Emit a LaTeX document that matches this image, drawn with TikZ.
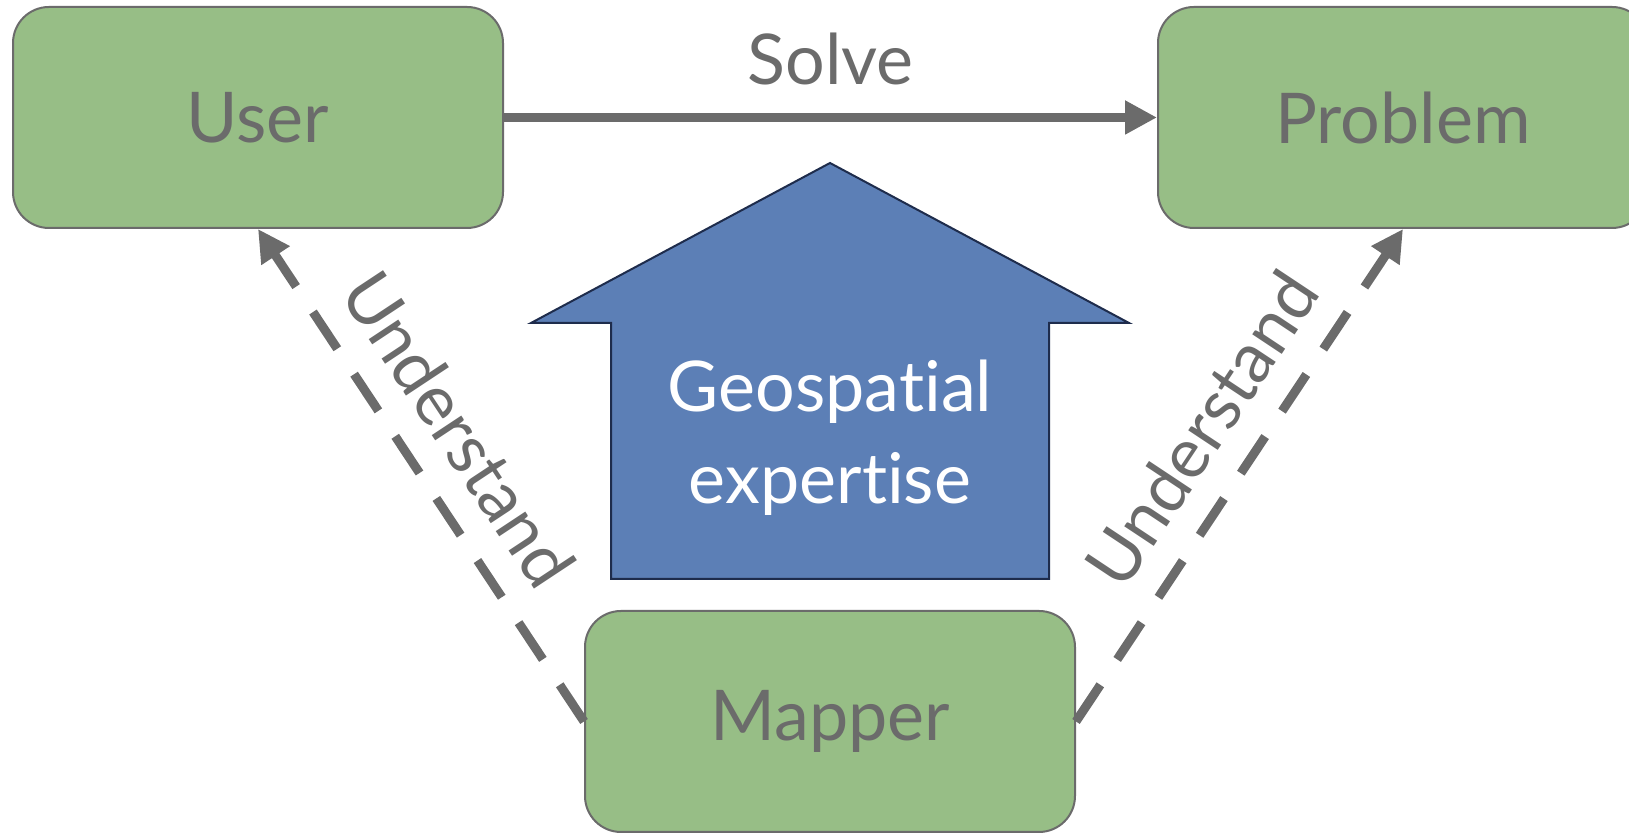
\documentclass[tikz,border=0pt]{standalone}
\usepackage{fontspec}
\setmainfont{Lato}[Ligatures={NoCommon,NoRequired,NoContextual}]
\usetikzlibrary{positioning,arrows.meta}

\definecolor{boxgreen}{RGB}{151,190,134}
\definecolor{linegray}{RGB}{107,107,107}
\definecolor{arrowblue}{RGB}{92,127,182}
\definecolor{arrownavy}{RGB}{30,44,76}

\newcommand{\bigfont}{\fontsize{35pt}{46pt}\selectfont}

\tikzset{
  actor/.style={draw=linegray, line width=1pt, fill=boxgreen, rounded corners=18pt,
    minimum width=245pt, minimum height=110.5pt, text=linegray, font=\bigfont},
  link/.style={draw=linegray, line width=4.5pt, -{Triangle[length=16pt,width=16pt]}},
  understandlink/.style={link, dash pattern=on 22pt off 15.25pt},
  linklabel/.style={text=linegray, font=\bigfont, inner sep=0pt, outer sep=0pt},
}

\begin{document}
\begin{tikzpicture}
  \useasboundingbox (0,0) rectangle (814.5pt,416.5pt);

  % Boxes
  \node[actor] (user) at (129pt,357.75pt) {User};
  \node[actor] (problem) at (701.5pt,357.75pt) {Problem};
  \node[actor] (mapper) at (415pt,55.75pt) {Mapper};

  % Expertise arrow
  \draw[draw=arrownavy, line width=1pt, fill=arrowblue]
    (305.5pt,127pt) -- (305.5pt,255pt) -- (265.5pt,255pt) -- (415pt,335pt)
    -- (564.5pt,255pt) -- (524.5pt,255pt) -- (524.5pt,127pt) -- cycle;
  % Label
  \node[text=white, font=\bigfont, align=center] (expertise) at (415pt,197.75pt) {Geospatial\\expertise};

  % Lines
  \draw[link] (user) -- node[linklabel, above=16pt] (solve) {Solve} (problem);
  \draw[understandlink] (mapper.west) -- node[linklabel, sloped, pos=0.53, above=15.5pt] (understandleft) {Understand} (user.south);
  \draw[understandlink] (mapper.east) -- node[linklabel, sloped, pos=0.53, above=15.5pt] (understandright) {Understand} (problem.south);
\end{tikzpicture}
\end{document}
